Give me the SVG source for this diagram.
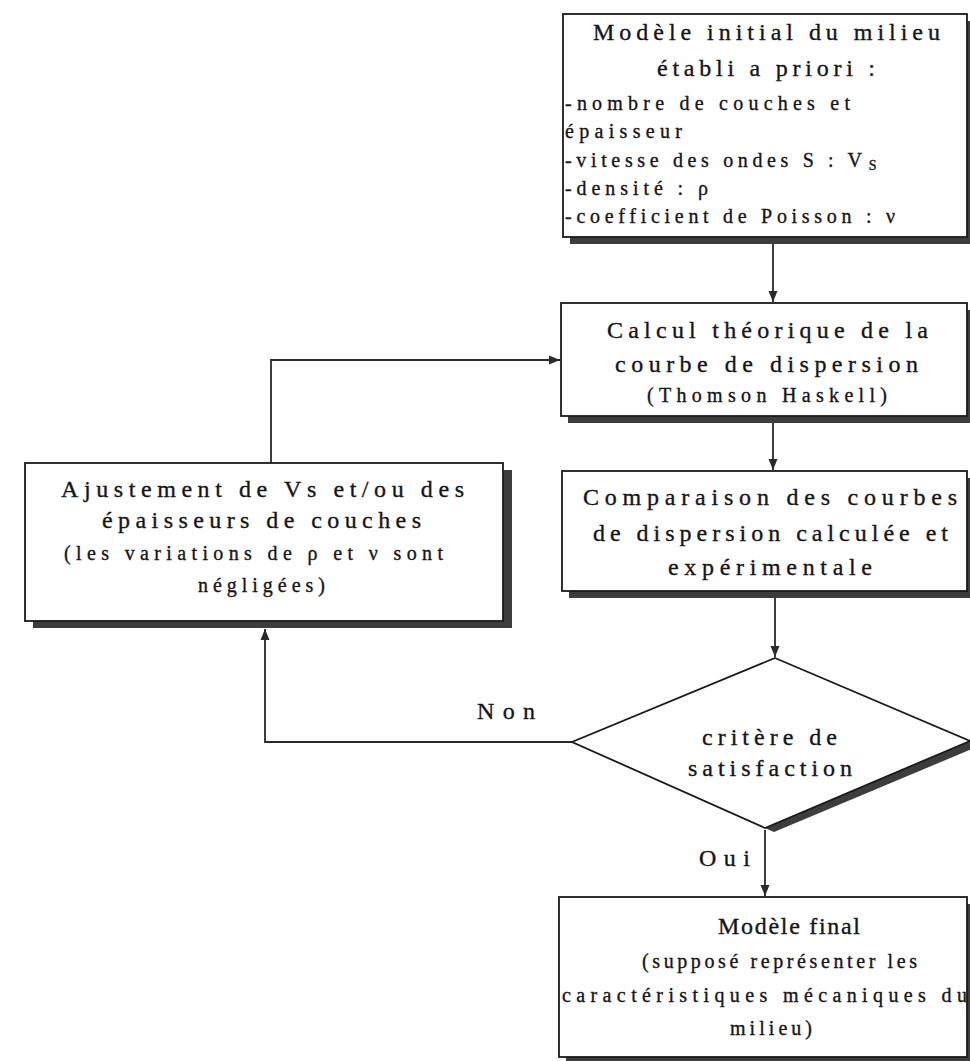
<svg xmlns="http://www.w3.org/2000/svg" width="970" height="1061" viewBox="0 0 970 1061">
<style>
.box{fill:#fff;stroke:#1a1a1a;stroke-width:1.8}
.sh{fill:#3d3d3d}
.t{font-family:"Liberation Serif","Times New Roman",serif;fill:#161616;stroke:#161616;stroke-width:0.35}
.h{font-size:24px}
.s{font-size:20px}
.c{fill:none;stroke:#2a2a2a;stroke-width:1.8}
</style>
<defs>
<marker id="ah" markerUnits="userSpaceOnUse" markerWidth="12" markerHeight="12" viewBox="0 0 12 12" refX="11" refY="6" orient="auto">
<path d="M0,1.5 L11,6 L0,10.5 Z" fill="#2a2a2a"/>
</marker>
</defs>
<rect width="970" height="1061" fill="#fff"/>

<g id="connectors">
<path class="c" d="M773,243 V302" marker-end="url(#ah)"/>
<path class="c" d="M773,423 V470" marker-end="url(#ah)"/>
<path class="c" d="M775,598 V657" marker-end="url(#ah)"/>
<path class="c" d="M765,830 V896" marker-end="url(#ah)"/>
<path class="c" d="M271,463 V360 H560" marker-end="url(#ah)"/>
<path class="c" d="M572,742 H265 V629" marker-end="url(#ah)"/>
</g>

<g id="n_initial">
<rect class="sh" x="570" y="21" width="404" height="223"/>
<rect class="box" x="563" y="14" width="404" height="223"/>
<text class="t h" x="593" y="40" textLength="347" lengthAdjust="spacing">Modèle initial du milieu</text>
<text class="t h" x="657" y="76" textLength="218" lengthAdjust="spacing">établi a priori :</text>
<text class="t s" x="565" y="110" textLength="285" lengthAdjust="spacing">-nombre de couches et</text>
<text class="t s" x="565" y="138" textLength="117" lengthAdjust="spacing">épaisseur</text>
<text class="t s" x="565" y="167"><tspan textLength="297" lengthAdjust="spacing">-vitesse des ondes S : V</tspan><tspan font-size="14" dx="2" dy="3">S</tspan></text>
<text class="t s" x="565" y="195" textLength="143" lengthAdjust="spacing">-densité : ρ</text>
<text class="t s" x="565" y="223" textLength="330" lengthAdjust="spacing">-coefficient de Poisson : ν</text>
</g>

<g id="n_calcul">
<rect class="sh" x="568" y="310" width="404" height="113"/>
<rect class="box" x="561" y="303" width="406" height="113"/>
<text class="t h" x="607" y="338" textLength="321" lengthAdjust="spacing">Calcul théorique de la</text>
<text class="t h" x="615" y="372" textLength="303" lengthAdjust="spacing">courbe de dispersion</text>
<text class="t s" x="647" y="402" textLength="240" lengthAdjust="spacing">(Thomson Haskell)</text>
</g>

<g id="n_compare">
<rect class="sh" x="569" y="478" width="404" height="120"/>
<rect class="box" x="562" y="471" width="405" height="120"/>
<text class="t h" x="583" y="505" textLength="374" lengthAdjust="spacing">Comparaison des courbes</text>
<text class="t h" x="593" y="541" textLength="355" lengthAdjust="spacing">de dispersion calculée et</text>
<text class="t h" x="668" y="575" textLength="204" lengthAdjust="spacing">expérimentale</text>
</g>

<g id="n_ajust">
<rect class="sh" x="33" y="470" width="479" height="158"/>
<rect class="box" x="25" y="463" width="478" height="158"/>
<text class="t h" x="61" y="497" textLength="403" lengthAdjust="spacing">Ajustement de Vs et/ou des</text>
<text class="t h" x="102" y="528" textLength="319" lengthAdjust="spacing">épaisseurs de couches</text>
<text class="t s" x="64" y="560" textLength="379" lengthAdjust="spacing">(les variations de ρ et ν sont</text>
<text class="t s" x="198" y="592" textLength="127" lengthAdjust="spacing">négligées)</text>
</g>

<g id="n_critere">
<polygon class="sh" points="781,662 979,746 774,832 581,746"/>
<polygon class="box" points="775,658 970,741 765,828 572,742"/>
<text class="t h" x="702" y="745" textLength="135" lengthAdjust="spacing">critère de</text>
<text class="t h" x="688" y="776" textLength="164" lengthAdjust="spacing">satisfaction</text>
</g>

<g id="labels">
<text class="t h" x="477" y="719" textLength="58" lengthAdjust="spacing">Non</text>
<text class="t h" x="699" y="866" textLength="51" lengthAdjust="spacing">Oui</text>
</g>

<g id="n_final">
<rect class="sh" x="566" y="904" width="404" height="160"/>
<rect class="box" x="559" y="897" width="408" height="160"/>
<text class="t h" x="718" y="934" textLength="142" lengthAdjust="spacing">Modèle final</text>
<text class="t s" x="642" y="968" textLength="275" lengthAdjust="spacing">(supposé représenter les</text>
<text class="t s" x="562" y="1002" textLength="405" lengthAdjust="spacing">caractéristiques mécaniques du</text>
<text class="t s" x="730" y="1035" textLength="82" lengthAdjust="spacing">milieu)</text>
</g>
</svg>
